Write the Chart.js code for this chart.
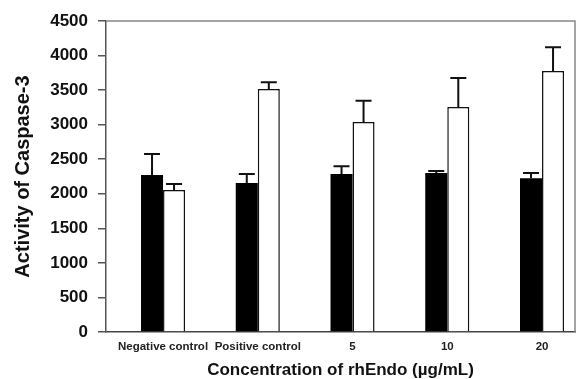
<!DOCTYPE html>
<html>
<head>
<meta charset="utf-8">
<script src="https://cdn.jsdelivr.net/npm/chart.js@4/dist/chart.umd.min.js"></script>
<style>
  html, body { margin: 0; padding: 0; background: #fff; }
  #wrap { width: 578px; height: 379px; }
</style>
</head>
<body>
<div id="wrap"><canvas id="chartCanvas"></canvas></div>
<script>
  // values
  const categories = ['Negative control', 'Positive control', '5', '10', '20'];
  const blackValues = [2270, 2155, 2285, 2300, 2225];
  const blackErrors = [305, 130, 115, 30, 75];
  const whiteValues = [2055, 3515, 3040, 3255, 3775];
  const whiteErrors = [85, 100, 305, 420, 345];
  const yTicks = [0, 500, 1000, 1500, 2000, 2500, 3000, 3500, 4000, 4500];

  const FONT = '"Liberation Sans", Arial, sans-serif';

  function toPoints(vals) {
    return vals.map((v, i) => ({ x: i + 1, y: v }));
  }

  // up-only error bars + grey frame on top/right
  const extras = {
    id: 'extras',
    afterDatasetsDraw(chart) {
      const ctx = chart.ctx;
      const yScale = chart.scales.y;
      const errs = [blackErrors, whiteErrors];
      ctx.save();
      ctx.strokeStyle = '#111';
      ctx.lineWidth = 2;
      chart.data.datasets.forEach((ds, d) => {
        const meta = chart.getDatasetMeta(d);
        meta.data.forEach((bar, i) => {
          const top = yScale.getPixelForValue(ds.data[i].y + errs[d][i]);
          ctx.beginPath();
          ctx.moveTo(bar.x, bar.y);
          ctx.lineTo(bar.x, top);
          ctx.moveTo(bar.x - 8, top);
          ctx.lineTo(bar.x + 8, top);
          ctx.stroke();
        });
      });
      const a = chart.chartArea;
      ctx.strokeStyle = '#888';
      ctx.lineWidth = 1.5;
      ctx.beginPath();
      ctx.moveTo(a.left, a.top);
      ctx.lineTo(a.right, a.top);
      ctx.lineTo(a.right, a.bottom);
      ctx.stroke();
      ctx.restore();
    }
  };

  new Chart(document.getElementById('chartCanvas'), {
    type: 'bar',
    data: {
      datasets: [{
        data: toPoints(blackValues),
        backgroundColor: '#000',
        borderColor: '#000',
        borderWidth: 0,
        barPercentage: 1,
        categoryPercentage: 0.465,
      }, {
        data: toPoints(whiteValues),
        backgroundColor: '#fff',
        borderColor: '#111',
        borderWidth: 1.5,
        barPercentage: 1,
        categoryPercentage: 0.465,
      }],
    },
    plugins: [extras],
    options: {
      responsive: true,
      maintainAspectRatio: false,
      animation: false,
      layout: { padding: { top: 21, right: 3, left: 0, bottom: 0 } },
      plugins: { legend: { display: false }, tooltip: { enabled: false } },
      scales: {
        x: {
          type: 'linear',
          offset: false,
          min: 0.398,
          max: 5.348,
          grid: { display: false, drawTicks: false, offset: false },
          border: { display: true, color: '#444', width: 1.5 },
          ticks: {
            stepSize: 1,
            includeBounds: false,
            autoSkip: false,
            maxRotation: 0,
            padding: 8,
            color: '#222',
            font: { family: FONT, size: 11.5, weight: 'bold' },
            callback: v => Number.isInteger(v) ? categories[v - 1] : '',
          },
          title: {
            display: true,
            text: 'Concentration of rhEndo (µg/mL)',
            color: '#111',
            font: { family: FONT, size: 17, weight: 'bold' },
            padding: { top: 4, bottom: -2 },
          },
          afterFit: s => { s.height = 47; },
        },
        y: {
          min: 0,
          max: 4500,
          afterBuildTicks: s => { s.ticks = yTicks.map(v => ({ value: v })); },
          grid: { display: true, drawOnChartArea: false, drawTicks: true, tickLength: 8, color: '#555', lineWidth: 1.5 },
          border: { display: true, color: '#555', width: 1.5 },
          ticks: {
            padding: 10,
            color: '#111',
            font: { family: FONT, size: 17, weight: 'bold' },
            callback: v => String(v),
          },
          title: {
            display: true,
            text: 'Activity of Caspase-3',
            color: '#111',
            font: { family: FONT, size: 20, weight: 'bold' },
            padding: { top: 11, bottom: 0 },
          },
          afterFit: s => { s.width = 106; },
        },
      },
    },
  });
</script>
</body>
</html>
